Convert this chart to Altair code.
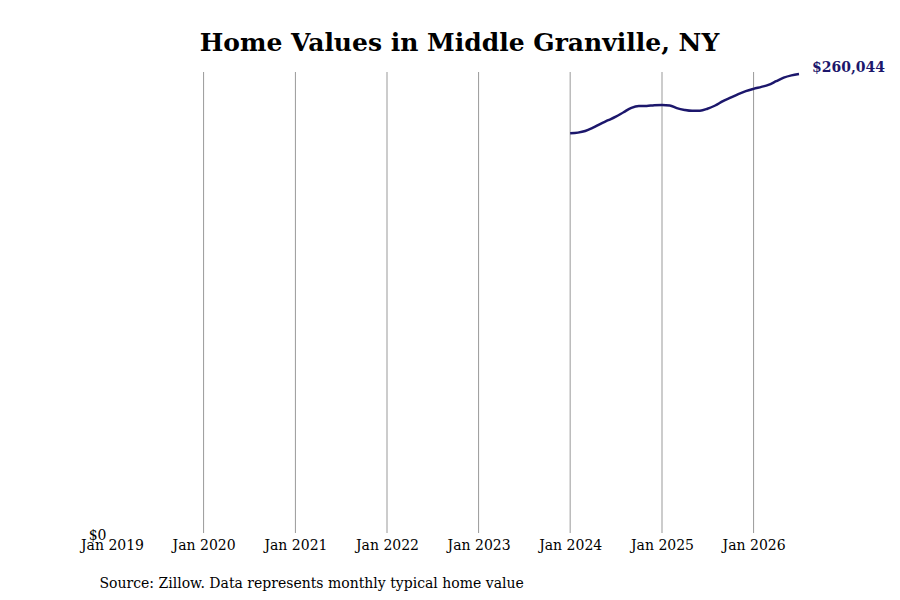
import altair as alt
import pandas as pd

months = pd.date_range("2024-01-01", "2026-07-01", freq="MS").strftime("%Y-%m-%d").tolist()
values = [226600, 227000, 227900, 229800, 232000, 234000, 236000, 238500, 241000,
          242000, 242000, 242500, 242600, 242300, 240800, 239800, 239300, 239400,
          240500, 242300, 244800, 246700, 248700, 250400, 251700, 252800, 253900,
          256000, 258000, 259300, 260044]
grid_years = ["2020-01-01", "2021-01-01", "2022-01-01", "2023-01-01",
              "2024-01-01", "2025-01-01", "2026-01-01"]
tick_dates = ["2019-01-01"] + grid_years
last_label = "$260,044"

df = pd.DataFrame({"date": months, "value": values})
grid_df = pd.DataFrame({"date": grid_years})
last_df = pd.DataFrame({"date": [months[-1]], "value": [values[-1]], "label": [last_label]})

FONT = "DejaVu Serif"
NAVY = "#1c176c"

x_scale = alt.Scale(domain=["2019-01-01", "2026-07-01"], type="time")
y_scale = alt.Scale(domain=[0, 261200], nice=False)

grid = alt.Chart(grid_df).mark_rule(color="#999999", strokeWidth=1).encode(
    x=alt.X("date:T", scale=x_scale),
    y=alt.value(0),
    y2=alt.value(461),
)

line = alt.Chart(df).mark_line(color=NAVY, strokeWidth=2.5, interpolate="monotone").encode(
    x=alt.X("date:T", scale=x_scale,
            axis=alt.Axis(values=tick_dates, format="%b %Y", grid=False, domain=False,
                          ticks=False, labelFont=FONT, labelFontSize=14, labelColor="#000",
                          labelPadding=3, labelAngle=0, labelFlush=False, labelOverlap=False,
                          title="Source: Zillow. Data represents monthly typical home value",
                          titleFont=FONT, titleFontSize=14, titleFontWeight="normal",
                          titleColor="#000", titleAnchor="start", titleAlign="left",
                          titleBaseline="alphabetic",
                          titleX=-13, titleY=52)),
    y=alt.Y("value:Q", scale=y_scale,
            axis=alt.Axis(values=[0], format="$,.0f", grid=False, domain=False, ticks=False,
                          labelFont=FONT, labelFontSize=14, labelColor="#000",
                          labelPadding=6, title=None)),
)

label = alt.Chart(last_df).mark_text(
    align="left", dx=13, dy=-6, font=FONT, fontSize=14, fontWeight="bold", color=NAVY
).encode(
    x=alt.X("date:T", scale=x_scale),
    y=alt.Y("value:Q", scale=y_scale),
    text="label:N",
)

chart = alt.layer(grid, line, label).properties(
    width=687,
    height=463,
    background="white",
    title=alt.TitleParams("Home Values in Middle Granville, NY", font=FONT, fontSize=25,
                          fontWeight="bold", color="#000", anchor="middle", offset=5, dx=4),
    autosize=alt.AutoSizeParams(type="none"),
    padding={"left": 104, "top": 64, "right": 90, "bottom": 70},
).configure_view(strokeWidth=0, stroke="transparent")

chart.save("out.html", embed_options={"renderer": "svg", "actions": False})
